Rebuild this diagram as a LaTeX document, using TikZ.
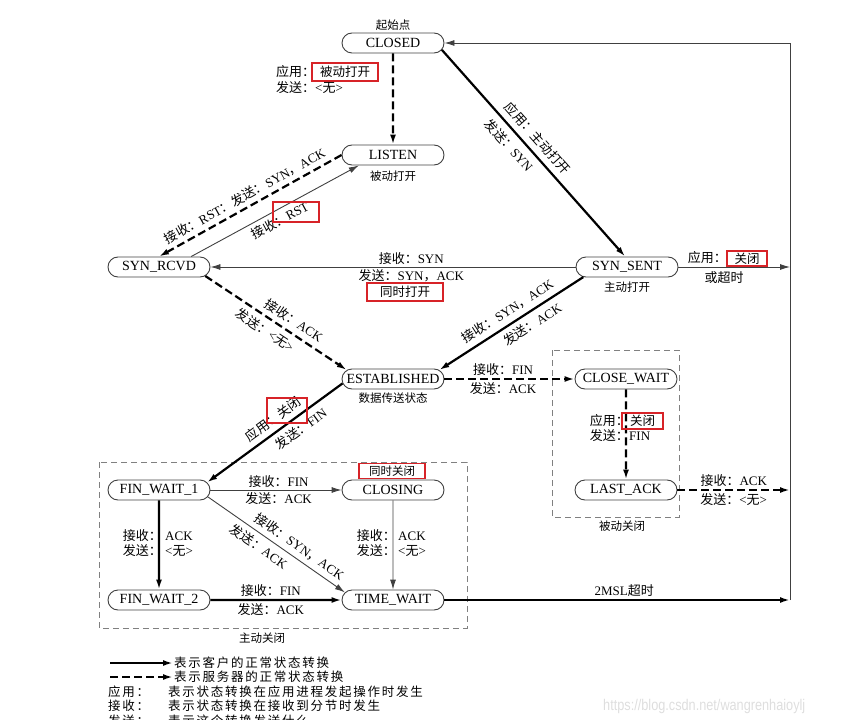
\documentclass[tikz,border=0pt]{standalone}
\usepackage{fontspec}
\setmainfont{Liberation Serif}
\newfontfamily\cjk{Noto Sans CJK SC}
\newfontfamily\cjklg[LetterSpace=14]{Noto Sans CJK SC}
\newfontfamily\wmfont[FakeStretch=0.82]{Liberation Sans}
\usetikzlibrary{arrows.meta,shapes.misc}
\newcommand\zh[1]{{\cjk #1}}
\definecolor{redmark}{RGB}{215,35,40}
\begin{document}
\begin{tikzpicture}[x=1pt,y=-1pt,
  state/.style={rounded rectangle, draw=black!75, line width=0.9pt, minimum width=102pt, minimum height=20pt, inner sep=0pt, font=\fontsize{14}{16}\selectfont},
  tip/.style={-{Latex[length=10pt,width=6pt]}},
  cli/.style={line width=2.2pt, tip},
  srv/.style={line width=2.2pt, dash pattern=on 8pt off 4pt, tip},
  thinl/.style={line width=0.9pt, draw=black!75, tip},
  lbl/.style={inner sep=1pt, font=\fontsize{13}{15}\selectfont},
  sub/.style={inner sep=0pt, font=\fontsize{11.5}{13}\selectfont},
  redbox/.style={draw=redmark, line width=1.4pt, inner sep=0pt, font=\fontsize{12.5}{14}\selectfont},
  redrect/.style={draw=redmark, line width=1.4pt},
  group/.style={draw=black!50, line width=0.8pt, dash pattern=on 6pt off 4pt},
  lg/.style={inner sep=0pt, font=\cjklg\fontsize{12.5}{13}\selectfont},
]
\useasboundingbox (0,0) rectangle (866,719);

% states
\node[state] (closed) at (393,43) {CLOSED};
\node[sub] (t1) at (393,25) {\zh{起始点}};
\node[state] (listen) at (393,155) {LISTEN};
\node[sub] (t2) at (393,176) {\zh{被动打开}};
\node[state] (synrcvd) at (159,267) {SYN\_RCVD};
\node[state] (synsent) at (627,267) {SYN\_SENT};
\node[sub] (t3) at (627,287) {\zh{主动打开}};
\node[state] (estab) at (393,379) {ESTABLISHED};
\node[sub] (t4) at (393,398) {\zh{数据传送状态}};
\node[state] (closewait) at (626,379) {CLOSE\_WAIT};
\node[state] (lastack) at (626,490) {LAST\_ACK};
\node[state] (fw1) at (159,490) {FIN\_WAIT\_1};
\node[state] (closing) at (393,490) {CLOSING};
\node[state] (fw2) at (159,600) {FIN\_WAIT\_2};
\node[state] (timewait) at (393,600) {TIME\_WAIT};

% groups
\draw[group] (99,462) rectangle (467,628);
\node[sub] (g1) at (262,638) {\zh{主动关闭}};
\draw[group] (552,350) rectangle (679,517);
\node[sub] (g2) at (622,526) {\zh{被动关闭}};

% right rail
\coordinate (rtop) at (790,43);
\coordinate (r1) at (790,267);
\coordinate (r2) at (790,490);
\coordinate (r3) at (790,600);

% CLOSED -> LISTEN
\draw[srv] (closed) -- (listen);
\node[lbl, anchor=west] (a1) at (275,72) {\zh{应用：}};
\node[redbox, minimum width=66pt, minimum height=18pt] (rb1) at (345,72) {\zh{被动打开}};
\node[lbl, anchor=west] (a2) at (275,88) {\zh{发送：}<\zh{无}>};

% CLOSED -> SYN_SENT
\draw[cli] (closed.-8) -- (synsent.100)
  node[lbl, sloped, above=5pt, pos=0.47] {\zh{应用：主动打开}}
  node[lbl, sloped, below=5pt, pos=0.42] {\zh{发送：}SYN};

% LISTEN -> SYN_RCVD
\draw[srv] (listen.west) -- (synrcvd.north)
  node[lbl, sloped, above=3pt, pos=0.5] {\zh{接收：}RST\zh{：发送：}SYN\zh{，}ACK};
% SYN_RCVD -> LISTEN
\draw[thinl] (synrcvd.18) -- (listen.197)
  node[lbl, sloped, below=3pt, pos=0.5] {\zh{接收：}RST};
\draw[redrect] (273,202) rectangle (319,222);

% SYN_SENT -> SYN_RCVD
\draw[thinl] (synsent.west) -- (synrcvd.east)
  node[lbl, above=1pt, pos=0.45] {\zh{接收：}SYN}
  node[lbl, below=1pt, pos=0.45] {\zh{发送：}SYN\zh{，}ACK};
\node[redbox, minimum width=76pt, minimum height=18pt] (rb3) at (405,292) {\zh{同时打开}};

% SYN_RCVD -> ESTABLISHED
\draw[srv] (synrcvd.-11) -- (estab.169)
  node[lbl, sloped, above=4pt, pos=0.58] {\zh{接收：}ACK}
  node[lbl, sloped, below=4pt, pos=0.47] {\zh{发送：}<\zh{无}>};

% SYN_SENT -> ESTABLISHED
\draw[cli] (synsent.193) -- (estab.11)
  node[lbl, sloped, above=4pt, pos=0.48] {\zh{接收：}SYN\zh{，}ACK}
  node[lbl, sloped, below=4pt, pos=0.40] {\zh{发送：}ACK};

% SYN_SENT -> right rail
\draw[thinl] (synsent.east) -- (r1);
\node[lbl, anchor=east] (a3) at (728,258) {\zh{应用：}};
\node[redbox, minimum width=40pt, minimum height=15pt] (rb4) at (747,258.5) {\zh{关闭}};
\node[lbl] (a4) at (724,278) {\zh{或超时}};

% ESTABLISHED -> CLOSE_WAIT
\draw[srv] (estab.east) -- (closewait.west)
  node[lbl, above=1pt, pos=0.45] {\zh{接收：}FIN}
  node[lbl, below=1pt, pos=0.45] {\zh{发送：}ACK};

% CLOSE_WAIT -> LAST_ACK
\draw[srv] (closewait) -- (lastack);
\node[lbl, anchor=east] (a5) at (630,421) {\zh{应用：}};
\node[redbox, minimum width=41pt, minimum height=16pt] (rb7) at (642.5,421) {\zh{关闭}};
\node[lbl, anchor=east] (a6) at (630,436) {\zh{发送：}};
\node[lbl, anchor=west] (a7) at (628,436) {FIN};

% LAST_ACK -> right rail
\draw[srv] (lastack.east) -- (r2)
  node[lbl, above=1pt, pos=0.5] {\zh{接收：}ACK}
  node[lbl, below=1pt, pos=0.5] {\zh{发送：}<\zh{无}>};

% ESTABLISHED -> FIN_WAIT_1
\draw[cli] (estab.185) -- (fw1.9)
  node[lbl, sloped, above=4pt, pos=0.46] {\zh{应用：关闭}}
  node[lbl, sloped, below=4pt, pos=0.36] {\zh{发送：}FIN};
\draw[redrect] (267,398) rectangle (307,423);

% FIN_WAIT_1 -> CLOSING
\draw[thinl] (fw1.east) -- (closing.west)
  node[lbl, above=1pt, pos=0.52] {\zh{接收：}FIN}
  node[lbl, below=1pt, pos=0.52] {\zh{发送：}ACK};
\node[redbox, minimum width=66pt, minimum height=15pt, font=\fontsize{11.5}{13}\selectfont] (rb6) at (392,471) {\zh{同时关闭}};

% FIN_WAIT_1 -> TIME_WAIT
\draw[thinl] (fw1.-8) -- (timewait.171)
  node[lbl, sloped, above=4pt, pos=0.62] {\zh{接收：}SYN\zh{，}ACK}
  node[lbl, sloped, below=4pt, pos=0.42] {\zh{发送：}ACK};

% FIN_WAIT_1 -> FIN_WAIT_2
\draw[cli] (fw1) -- (fw2);
\node[lbl, anchor=east] (a8) at (163,536) {\zh{接收：}};
\node[lbl, anchor=west] (a9) at (164,536) {ACK};
\node[lbl, anchor=east] (a10) at (163,551) {\zh{发送：}};
\node[lbl, anchor=west] (a11) at (164,551) {<\zh{无}>};

% CLOSING -> TIME_WAIT
\draw[thinl] (closing) -- (timewait);
\node[lbl, anchor=east] (a12) at (397,536) {\zh{接收：}};
\node[lbl, anchor=west] (a13) at (397,536) {ACK};
\node[lbl, anchor=east] (a14) at (397,551) {\zh{发送：}};
\node[lbl, anchor=west] (a15) at (397,551) {<\zh{无}>};

% FIN_WAIT_2 -> TIME_WAIT
\draw[cli] (fw2) -- (timewait)
  node[lbl, above=1pt, pos=0.46] {\zh{接收：}FIN}
  node[lbl, below=1pt, pos=0.46] {\zh{发送：}ACK};

% TIME_WAIT -> right rail
\draw[cli] (timewait.east) -- (r3)
  node[lbl, above=1pt, pos=0.52] {2MSL\zh{超时}};

% right rail back to CLOSED
\draw[thinl] (r3) -- (rtop) -- (closed.east);

% legend
\coordinate (l1a) at (110,663);
\coordinate (l1b) at (173,663);
\coordinate (l2a) at (110,677);
\coordinate (l2b) at (173,677);
\draw[cli] (l1a) -- (l1b);
\draw[srv] (l2a) -- (l2b);
\node[lg, anchor=west] (lg1) at (174,663) {表示客户的正常状态转换};
\node[lg, anchor=west] (lg2) at (174,677) {表示服务器的正常状态转换};
\node[lg, anchor=west] (lg3) at (108,692) {应用：};
\node[lg, anchor=west] (lg4) at (168,692) {表示状态转换在应用进程发起操作时发生};
\node[lg, anchor=west] (lg5) at (108,706) {接收：};
\node[lg, anchor=west] (lg6) at (168,706) {表示状态转换在接收到分节时发生};
\node[lg, anchor=west] (lg7) at (108,721) {发送：};
\node[lg, anchor=west] (lg8) at (168,721) {表示这个转换发送什么};

% watermark
\node[anchor=west, inner sep=0pt, text=black!13, font=\wmfont\fontsize{15.5}{17}\selectfont] (wm) at (603,706) {https://blog.csdn.net/wangrenhaioylj};
\end{tikzpicture}
\end{document}
